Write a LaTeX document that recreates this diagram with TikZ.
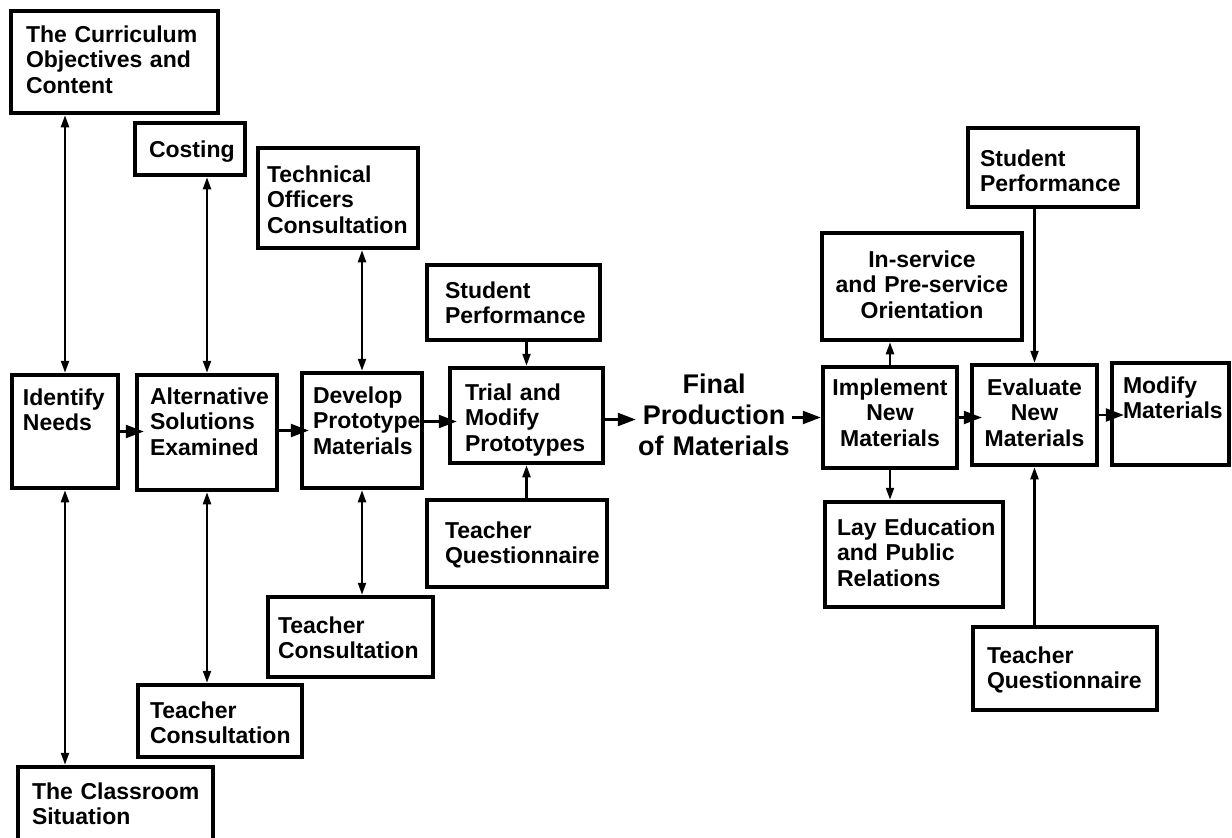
\documentclass[tikz,border=0pt]{standalone}
\usepackage{fontspec}
\setmainfont{Liberation Sans}
\usepackage{tikz}
\usetikzlibrary{arrows.meta}
\hyphenpenalty=10000
\exhyphenpenalty=10000

\begin{document}
\begin{tikzpicture}[x=1pt, y=-1pt,
    box/.style={draw, line width=4.5pt, inner xsep=0pt, inner ysep=0pt, align=left,
        font=\fontsize{23}{25.5}\selectfont\bfseries},
    both/.style={line width=2.2pt, {Triangle[length=12pt,width=8pt]}-{Triangle[length=12pt,width=8pt]}},
    into/.style={line width=2.2pt, -{Triangle[length=12pt,width=8pt]}},
    flow/.style={line width=2.4pt, -{Triangle[length=18pt,width=13pt]}}]
    \useasboundingbox (0,0) rectangle (1232,838);
    % planning boxes
    \node[box, minimum width=207, minimum height=102, text width=177pt, text height=31pt, text depth=71pt] (curr) at (114.5,62) {The~Curriculum\\Objectives~and\\Content};
    \node[box, minimum width=110, minimum height=52, text width=82pt, text height=34pt, text depth=18pt] (cost) at (190,149) {Costing};
    \node[box, minimum width=160, minimum height=100, text width=142pt, text height=34pt, text depth=66pt] (tech) at (338,198) {Technical\\Officers\\Consultation};
    \node[box, minimum width=173, minimum height=75, text width=137pt, text height=33pt, text depth=42pt] (stud1) at (513.5,302.5) {Student\\Performance};
    % main row
    \node[box, minimum width=106, minimum height=113, text width=84pt, text height=30pt, text depth=83pt] (ident) at (65,431.5) {Identify\\Needs};
    \node[box, minimum width=140, minimum height=115, text width=114pt, text height=29pt, text depth=86pt] (alt) at (207,432.5) {Alternative\\Solutions\\Examined};
    \node[box, minimum width=120, minimum height=115, text width=98pt, text height=30pt, text depth=85pt] (dev) at (362,430.5) {Develop\\Prototype\\Materials};
    \node[box, minimum width=153, minimum height=95, text width=123pt, text height=32pt, text depth=63pt] (trial) at (526.5,415.5) {Trial~and\\Modify\\Prototypes};
    \node[box, draw=none, align=center, font=\fontsize{27}{31}\selectfont\bfseries, text width=152pt, text height=23pt, text depth=72pt] (final) at (714,417.5) {Final\\Production\\of~Materials};
    \node[box, align=center, minimum width=134, minimum height=101, text width=118pt, text height=28pt, text depth=73pt] (impl) at (890,417.5) {Implement\\New\\Materials};
    \node[box, align=center, minimum width=125, minimum height=100, text width=109pt, text height=30pt, text depth=70pt] (eval) at (1034.5,415) {Evaluate\\New\\Materials};
    \node[box, minimum width=117, minimum height=102, text width=95pt, text height=30pt, text depth=72pt] (modm) at (1170.5,414) {Modify\\Materials};
    % side boxes on the right
    \node[box, align=center, minimum width=200, minimum height=107, text width=180pt, text height=34pt, text depth=73pt] (insv) at (922,286.5) {In-service\\and~Pre-service\\Orientation};
    \node[box, minimum width=170, minimum height=79, text width=146pt, text height=38pt, text depth=41pt] (stud2) at (1053,167.5) {Student\\Performance};
    \node[box, minimum width=178, minimum height=105, text width=154pt, text height=33pt, text depth=72pt] (lay) at (914,554.5) {Lay~Education\\and~Public\\Relations};
    \node[box, minimum width=184, minimum height=83, text width=156pt, text height=36pt, text depth=47pt] (tq2) at (1065,668.5) {Teacher\\Questionnaire};
    % lower boxes
    \node[box, minimum width=180, minimum height=87, text width=144pt, text height=38pt, text depth=49pt] (tq1) at (517,543.5) {Teacher\\Questionnaire};
    \node[box, minimum width=165, minimum height=80, text width=145pt, text height=36pt, text depth=44pt] (tc1) at (350.5,637) {Teacher\\Consultation};
    \node[box, minimum width=164, minimum height=72, text width=140pt, text height=33pt, text depth=39pt] (tc2) at (220,721) {Teacher\\Consultation};
    \node[box, minimum width=195, minimum height=92, text width=167pt, text height=32pt, text depth=60pt] (class) at (115.5,813) {The~Classroom\\Situation};
    % flow along the main row
    \coordinate (trialin) at ([yshift=-6pt]trial.west);
    \coordinate (trialout) at ([yshift=-4pt]trial.east);
    \draw[flow, shorten >=-9pt] (ident.east) -- (ident.east -| alt.west);
    \draw[flow, shorten >=-9pt] (alt.east |- dev.west) -- (dev.west);
    \draw[flow, shorten >=-9pt] (dev.east |- trialin) -- (trialin);
    \draw[flow] (trialout) -- (trialout -| final.west);
    \draw[flow] (final.east |- impl.west) -- (impl.west);
    \draw[flow, shorten >=-12pt] (impl.east) -- (impl.east -| eval.west);
    \draw[flow, shorten >=-14pt] (eval.east) -- (eval.east -| modm.west);
    % two-way links
    \draw[both] (curr.south -| ident.north) -- (ident.north);
    \draw[both] (cost.south -| alt.north) -- (alt.north);
    \draw[both] (tech.south -| dev.north) -- (dev.north);
    \draw[both] (ident.south) -- (ident.south |- class.north);
    \draw[both] (alt.south) -- (alt.south |- tc2.north);
    \draw[both] (dev.south) -- (dev.south |- tc1.north);
    % feedback into trial and evaluation
    \draw[into] (stud1.south -| trial.north) -- (trial.north);
    \draw[into] (tq1.north -| trial.south) -- (trial.south);
    \draw[into] (impl.north) -- (impl.north |- insv.south);
    \draw[into] (impl.south) -- (impl.south |- lay.north);
    \draw[into] (stud2.south -| eval.north) -- (eval.north);
    \draw[into] (tq2.north -| eval.south) -- (eval.south);
\end{tikzpicture}
\end{document}
